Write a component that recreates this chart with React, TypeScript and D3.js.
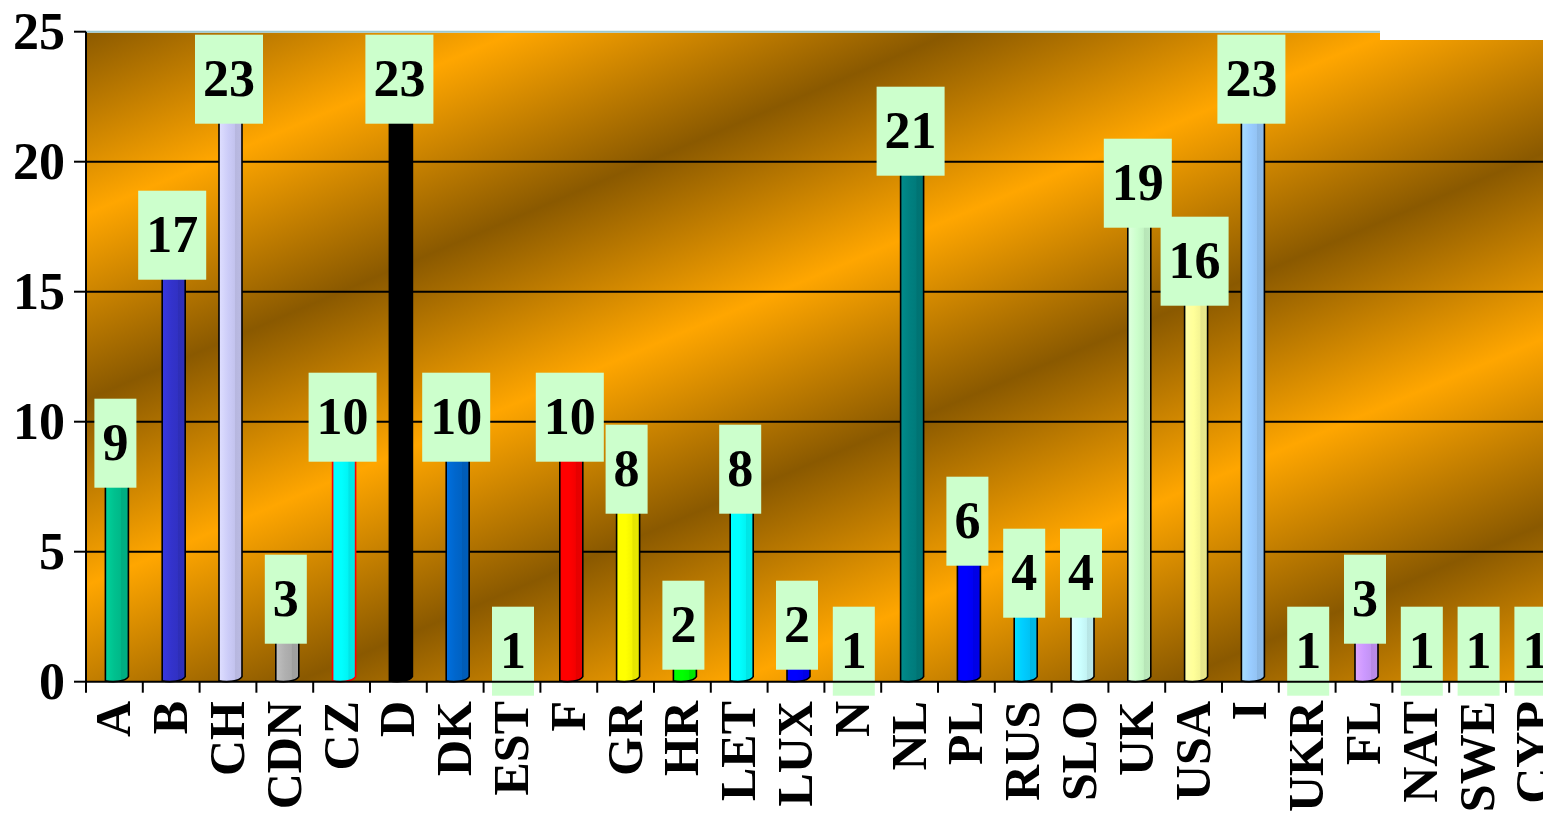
import * as d3 from 'd3';
import React, { useEffect, useRef } from 'react';

const categories = ['A', 'B', 'CH', 'CDN', 'CZ', 'D', 'DK', 'EST', 'F', 'GR', 'HR', 'LET', 'LUX', 'N', 'NL', 'PL', 'RUS', 'SLO', 'UK', 'USA', 'I', 'UKR', 'FL', 'NAT', 'SWE', 'CYP'];
const values = [9, 17, 23, 3, 10, 23, 10, 1, 10, 8, 2, 8, 2, 1, 21, 6, 4, 4, 19, 16, 23, 1, 3, 1, 1, 1];
const barColors = ['#00c08e', '#3333cc', '#ccccf8', '#b0b0b0', '#00ffff', '#000000', '#0066cc', '#993366', '#ff0000', '#ffff00', '#00ff00', '#00ffff', '#0000ff', '#ff00ff', '#008080', '#0000ff', '#00ccff', '#ccffff', '#ccffcc', '#ffff99', '#99ccff', '#ff99cc', '#cc99ff', '#ff6600', '#339966', '#666699'];
const barStrokes = ['#000', '#000', '#000', '#000', '#ff0000', '#000', '#000', '#000', '#000', '#000', '#000', '#000', '#000', '#000', '#000', '#000', '#000', '#000', '#000', '#000', '#000', '#000', '#000', '#000', '#000', '#000'];
const yTicks = [0, 5, 10, 15, 20, 25];

const W = 1543;
const H = 813;
const left = 86;
const top = 31.7;
const bottom = 681.7;
const step = 56.8;
const FONT = "'Liberation Serif', 'Times New Roman', serif";

const Chart = () => {
  const ref = useRef<SVGSVGElement>(null);

  useEffect(() => {
    const svg = d3.select(ref.current);
    svg.selectAll('*').remove();

    const x = d3
      .scaleBand()
      .domain(categories)
      .range([left, left + step * categories.length]);
    const y = d3.scaleLinear().domain([0, 25]).range([bottom, top]);

    const defs = svg.append('defs');

    // diagonal gold stripes behind the plot
    const bg = defs
      .append('linearGradient')
      .attr('id', 'bg')
      .attr('gradientUnits', 'userSpaceOnUse')
      .attr('spreadMethod', 'repeat')
      .attr('x1', 23.4)
      .attr('y1', 55.2)
      .attr('x2', 156.8)
      .attr('y2', 369.8);
    bg.append('stop').attr('offset', 0).attr('stop-color', '#8a5900');
    bg.append('stop').attr('offset', 0.5).attr('stop-color', '#ffa600');
    bg.append('stop').attr('offset', 1).attr('stop-color', '#8a5900');

    categories.forEach((_, i) => {
      const c = d3.color(barColors[i]) as any;
      const g = defs.append('linearGradient').attr('id', `bar${i}`);
      g.append('stop').attr('offset', 0).attr('stop-color', c.brighter(0.25).formatHex());
      g.append('stop').attr('offset', 0.4).attr('stop-color', c.formatHex());
      g.append('stop').attr('offset', 0.68).attr('stop-color', c.darker(0.12).formatHex());
      g.append('stop').attr('offset', 0.7).attr('stop-color', c.darker(0.3).formatHex());
      g.append('stop').attr('offset', 1).attr('stop-color', c.darker(0.25).formatHex());
    });

    svg
      .append('rect')
      .attr('x', left)
      .attr('y', top + 1)
      .attr('width', step * categories.length)
      .attr('height', bottom - top - 1)
      .attr('fill', 'url(#bg)');

    // white notch at top right
    svg
      .append('rect')
      .attr('x', 1380)
      .attr('y', 0)
      .attr('width', W - 1380)
      .attr('height', 40)
      .attr('fill', '#fff');

    svg
      .append('line')
      .attr('x1', left)
      .attr('x2', 1380)
      .attr('y1', top)
      .attr('y2', top)
      .attr('stroke', '#9cc9d2')
      .attr('stroke-width', 2);

    svg
      .selectAll('line.grid')
      .data(yTicks.filter((t) => t > 0 && t < 25))
      .join('line')
      .attr('class', 'grid')
      .attr('x1', left)
      .attr('x2', W)
      .attr('y1', (d) => y(d))
      .attr('y2', (d) => y(d))
      .attr('stroke', '#000')
      .attr('stroke-width', 2);

    const barW = 23;
    const bars = categories.map((c, i) => {
      const cx = (x(c) as number) + step / 2 + 2.5;
      return { i, x0: cx - barW / 2, x1: cx + barW / 2, top: y(values[i]) };
    });

    svg
      .selectAll('path.bar')
      .data(bars)
      .join('path')
      .attr('class', 'bar')
      .attr(
        'd',
        (d) =>
          `M${d.x0},${d.top} L${d.x0},${bottom - 1} C${d.x0 + 7},${bottom + 1} ${d.x1 - 3},${bottom} ${d.x1},${bottom - 5} L${d.x1},${d.top} Z`
      )
      .attr('fill', (d) => `url(#bar${d.i})`)
      .attr('stroke', (d) => barStrokes[d.i])
      .attr('stroke-width', 1.6);

    // value labels
    const labels = svg
      .selectAll('g.lbl')
      .data(categories)
      .join('g')
      .attr('class', 'lbl')
      .attr('transform', (c, i) => `translate(${(x(c) as number) + step / 2 + 1},${y(values[i]) - 4.5})`);
    labels
      .append('rect')
      .attr('x', (_, i) => -(26 * String(values[i]).length + 16) / 2)
      .attr('y', -44.5)
      .attr('width', (_, i) => 26 * String(values[i]).length + 16)
      .attr('height', 89)
      .attr('fill', '#ccffcc');
    labels
      .append('text')
      .attr('y', 17)
      .attr('text-anchor', 'middle')
      .style('font-family', FONT)
      .style('font-weight', 'bold')
      .style('font-size', '52px')
      .text((_, i) => values[i]);

    // y axis
    svg
      .append('line')
      .attr('x1', left)
      .attr('x2', left)
      .attr('y1', top)
      .attr('y2', bottom)
      .attr('stroke', '#000')
      .attr('stroke-width', 2);
    svg
      .selectAll('line.ytick')
      .data(yTicks)
      .join('line')
      .attr('class', 'ytick')
      .attr('x1', 74)
      .attr('x2', left)
      .attr('y1', (d) => y(d))
      .attr('y2', (d) => y(d))
      .attr('stroke', '#000')
      .attr('stroke-width', 2);
    svg
      .selectAll('text.ylab')
      .data(yTicks)
      .join('text')
      .attr('class', 'ylab')
      .attr('x', 65)
      .attr('y', (d) => y(d) + 17.5)
      .attr('text-anchor', 'end')
      .style('font-family', FONT)
      .style('font-weight', 'bold')
      .style('font-size', '52px')
      .text((d) => d);

    // x axis
    svg
      .append('line')
      .attr('x1', left)
      .attr('x2', W)
      .attr('y1', bottom)
      .attr('y2', bottom)
      .attr('stroke', '#000')
      .attr('stroke-width', 2);
    svg
      .selectAll('line.xtick')
      .data(d3.range(categories.length + 1))
      .join('line')
      .attr('class', 'xtick')
      .attr('x1', (k) => left + k * step)
      .attr('x2', (k) => left + k * step)
      .attr('y1', bottom)
      .attr('y2', bottom + 11)
      .attr('stroke', '#000')
      .attr('stroke-width', 2);
    svg
      .selectAll('text.xlab')
      .data(categories)
      .join('text')
      .attr('class', 'xlab')
      .attr('transform', (c) => `translate(${(x(c) as number) + step / 2 + 16},701) rotate(-90)`)
      .attr('text-anchor', 'end')
      .style('font-family', FONT)
      .style('font-weight', 'bold')
      .style('font-size', '50px')
      .text((c) => c);
  }, []);

  return (
    <svg
      ref={ref}
      width={W}
      height={H}
      style={{ position: 'absolute', left: 0, top: 0, display: 'block', background: '#fff' }}
    />
  );
};

export default function App() {
  return <Chart />;
}
